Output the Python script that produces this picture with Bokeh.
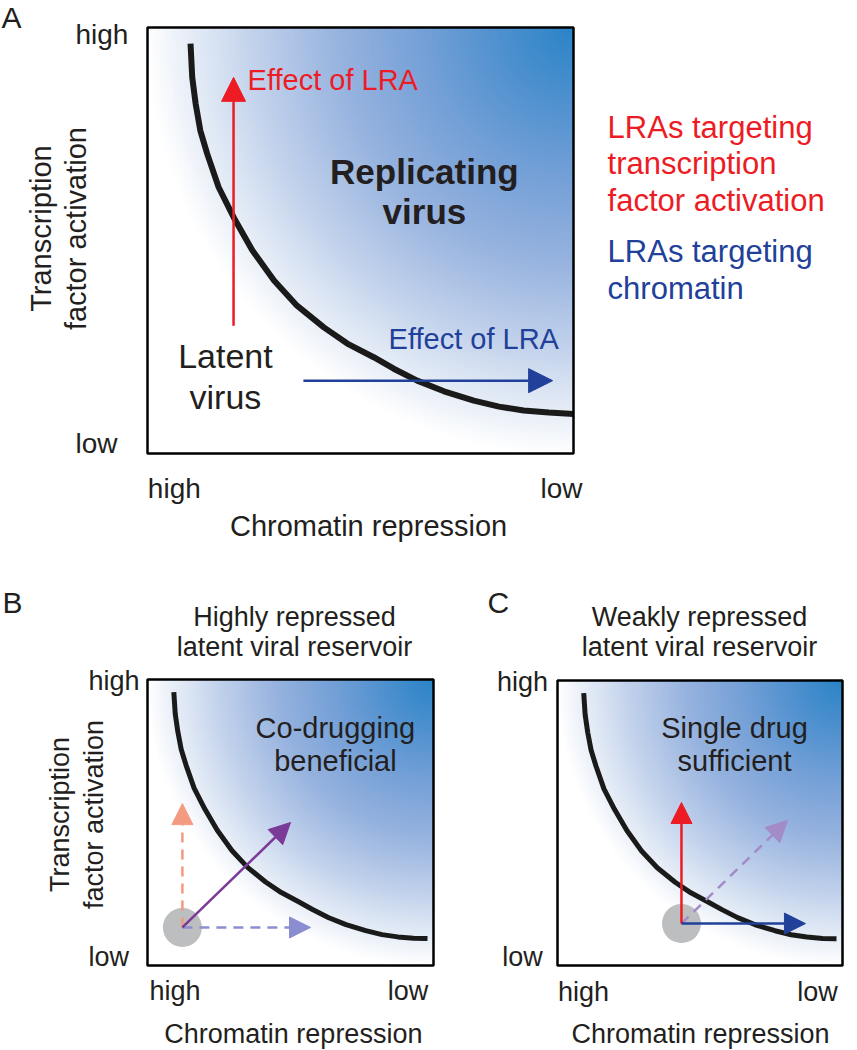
import numpy as np
from bokeh.plotting import figure
from bokeh.models import Arrow, NormalHead
from bokeh.layouts import column, row
from bokeh.embed import file_html
from bokeh.resources import INLINE
from bokeh.core.properties import value

# ---------------- data (normalised 0..1 axes: chromatin repression high->low, TF activation low->high)
curve_a_x = [0.101, 0.105, 0.113, 0.124, 0.140, 0.167, 0.203, 0.246, 0.297, 0.351, 0.414,
             0.469, 0.531, 0.578, 0.633, 0.696, 0.766, 0.825, 0.883, 0.942, 1.000]
curve_a_y = [0.962, 0.883, 0.821, 0.758, 0.704, 0.625, 0.553, 0.477, 0.406, 0.347, 0.296,
             0.258, 0.226, 0.199, 0.171, 0.146, 0.124, 0.110, 0.101, 0.096, 0.093]
curve_bc_x = [0.092, 0.097, 0.106, 0.118, 0.135, 0.163, 0.200, 0.244, 0.295, 0.350, 0.413,
              0.468, 0.530, 0.577, 0.632, 0.694, 0.763, 0.820, 0.875, 0.930, 0.979]
curve_bc_y = [0.956, 0.880, 0.818, 0.755, 0.700, 0.620, 0.548, 0.473, 0.402, 0.343, 0.292,
              0.255, 0.222, 0.196, 0.168, 0.143, 0.122, 0.108, 0.100, 0.095, 0.094]

x_tick_labels = ["high", "low"]
y_tick_labels = ["high", "low"]
x_title = "Chromatin repression"
y_title = ["Transcription", "factor activation"]

# panel A effect arrows
a_tf_x = [0.202, 0.202]
a_tf_y = [0.300, 0.883]
a_chrom_x = [0.366, 0.951]
a_chrom_y = [0.171, 0.171]
# panel B: latent state and drug effects
b_origin = [0.122, 0.133]
b_tf_tip = [0.122, 0.566]
b_chrom_tip = [0.570, 0.133]
b_combo_tip = [0.500, 0.500]
# panel C
c_origin = [0.435, 0.147]
c_tf_tip = [0.435, 0.572]
c_chrom_tip = [0.870, 0.147]
c_combo_tip = [0.807, 0.509]

FONT = "Liberation Sans"
INK = "#231f20"
RED = "#ed1c24"
BLUE = "#21409a"
SALMON = "#f39a80"
LAVENDER = "#8a8ed0"
PURPLE = "#7b3a98"
LILAC = "#a28bc7"
GREY = "#bdbec0"

BOX_PX = {}


def gradient_image(n=300):
    g = (np.arange(n) + 0.5) / n
    X, Y = np.meshgrid(g, g)
    d = np.sqrt((1 - X) ** 2 + (1 - Y) ** 2)
    sd = [0.0, 0.15, 0.35, 0.55, 0.75, 0.90, 1.0]
    r = [42, 74, 116, 151, 194, 230, 255]
    gg = [132, 143, 160, 179, 210, 237, 255]
    b = [200, 206, 215, 223, 236, 247, 255]
    img = np.empty((n, n), dtype=np.uint32)
    v = img.view(dtype=np.uint8).reshape((n, n, 4))
    v[..., 0] = np.interp(d, sd, r).astype(np.uint8)
    v[..., 1] = np.interp(d, sd, gg).astype(np.uint8)
    v[..., 2] = np.interp(d, sd, b).astype(np.uint8)
    v[..., 3] = 255
    return img


GRAD = gradient_image()


def panel(width, height, box_left, box_top, box_w, box_h):
    """Figure whose frame fills the canvas; the unit square is the diagram's plot box."""
    x0 = -box_left / box_w
    x1 = (width - box_left) / box_w
    y1 = 1 + box_top / box_h
    y0 = 1 - (height - box_top) / box_h
    p = figure(width=width, height=height, x_range=(x0, x1), y_range=(y0, y1),
               x_axis_location=None, y_axis_location=None,
               output_backend="svg", toolbar_location=None,
               min_border_left=0, min_border_right=0, min_border_top=0, min_border_bottom=0)
    p.grid.visible = False
    p.outline_line_color = None
    p.background_fill_color = "white"
    p.border_fill_color = "white"
    p.image_rgba(image=[GRAD], x=0, y=0, dw=1, dh=1)
    BOX_PX[p.id] = (box_w, box_h)
    return p


def box(p):
    p.quad(left=[0], right=[1], bottom=[0], top=[1], fill_color=None,
           line_color="black", line_width=2.5)


def words(p, xs, ys, texts, size, color=INK, align="center", style="normal", angle=0.0):
    # xs/ys give the intended alphabetic baseline; compensate the renderer's baseline drop
    bw, bh = BOX_PX[p.id]
    shift = 0.33 * float(size[:-2])
    if angle:
        xs = [x - shift / bw for x in xs]
    else:
        ys = [y + shift / bh for y in ys]
    p.text(x=xs, y=ys, text=texts, text_font=value(FONT), text_font_size=size,
           text_color=color, text_align=align, text_baseline="alphabetic",
           text_font_style=style, angle=angle)


def arrow(p, x0, y0, x1, y1, color, width=2.5, dash="solid", head=24):
    p.add_layout(Arrow(end=NormalHead(size=head, fill_color=color, line_color=color, line_width=1),
                       x_start=x0, y_start=y0, x_end=x1, y_end=y1,
                       line_color=color, line_width=width, line_dash=dash))


# ---------------- panel A  (box 426 x 426 px)
pa = panel(857, 570, 147, 27, 426, 426)
pa.line(curve_a_x, curve_a_y, line_width=6, line_color="#1a1a1a", line_join="round")
box(pa)
arrow(pa, a_tf_x[0], a_tf_y[0], a_tf_x[1], a_tf_y[1], RED, head=24)
arrow(pa, a_chrom_x[0], a_chrom_y[0], a_chrom_x[1], a_chrom_y[1], BLUE, head=24)
words(pa, [0.235], [0.854], ["Effect of LRA"], "29px", RED, "left")
words(pa, [0.566], [0.246], ["Effect of LRA"], "29px", BLUE, "left")
words(pa, [0.650, 0.650], [0.634, 0.540], ["Replicating", "virus"], "35px", style="bold")
words(pa, [0.183, 0.183], [0.202, 0.106], ["Latent", "virus"], "34px")
# tick labels and titles
words(pa, [0.063, 0.972], [-0.103, -0.103], x_tick_labels, "28px")
words(pa, [-0.169, -0.169], [0.962, 0.002], y_tick_labels, "28px", align="left")
words(pa, [0.519], [-0.192], [x_title], "29px")
words(pa, [-0.228, -0.146], [0.528, 0.528], y_title, "29px", angle=np.pi / 2)
words(pa, [-0.343], [1.0], ["A"], "30px", align="left")
words(pa, [1.08, 1.08, 1.08], [0.742, 0.657, 0.570],
      ["LRAs targeting", "transcription", "factor activation"], "31px", RED, "left")
words(pa, [1.08, 1.08], [0.451, 0.364], ["LRAs targeting", "chromatin"], "31px", BLUE, "left")

# ---------------- panel B  (box 286 x 286 px)
pb = panel(438, 480, 147, 109, 286, 286)
pb.line(curve_bc_x, curve_bc_y, line_width=5, line_color="#1a1a1a", line_join="round")
box(pb)
pb.scatter([b_origin[0]], [b_origin[1]], size=39, marker="circle", fill_color=GREY, line_color=None)
arrow(pb, b_origin[0], b_origin[1], b_tf_tip[0], b_tf_tip[1], SALMON, dash="10 7", head=21)
arrow(pb, b_origin[0], b_origin[1], b_chrom_tip[0], b_chrom_tip[1], LAVENDER, dash="10 7", head=21)
arrow(pb, b_origin[0], b_origin[1], b_combo_tip[0], b_combo_tip[1], PURPLE, head=21)
words(pb, [0.657, 0.657], [0.797, 0.682], ["Co-drugging", "beneficial"], "29px")
words(pb, [0.096, 0.911], [-0.122, -0.122], x_tick_labels, "27px")
words(pb, [-0.206, -0.206], [0.962, 0.0], y_tick_labels, "27px", align="left")
words(pb, [0.510], [-0.269], [x_title], "27px")
words(pb, [-0.276, -0.157], [0.528, 0.528], y_title, "27px", angle=np.pi / 2)
words(pb, [-0.507], [1.234], ["B"], "30px", align="left")
words(pb, [0.514, 0.514], [1.189, 1.084], ["Highly repressed", "latent viral reservoir"], "27px")

# ---------------- panel C  (box 285 x 285 px)
pc = panel(419, 480, 119, 110, 285, 285)
pc.line(curve_bc_x, curve_bc_y, line_width=5, line_color="#1a1a1a", line_join="round")
box(pc)
pc.scatter([c_origin[0]], [c_origin[1]], size=39, marker="circle", fill_color=GREY, line_color=None)
arrow(pc, c_origin[0], c_origin[1], c_combo_tip[0], c_combo_tip[1], LILAC, dash="10 7", head=21)
arrow(pc, c_origin[0], c_origin[1], c_tf_tip[0], c_tf_tip[1], RED, head=21)
arrow(pc, c_origin[0], c_origin[1], c_chrom_tip[0], c_chrom_tip[1], BLUE, head=21)
words(pc, [0.621, 0.621], [0.800, 0.684], ["Single drug", "sufficient"], "29px")
words(pc, [0.091, 0.912], [-0.123, -0.123], x_tick_labels, "27px")
words(pc, [-0.123, -0.123], [0.965, 0.0], y_tick_labels, "27px")
words(pc, [0.502], [-0.270], [x_title], "27px")
words(pc, [-0.246], [1.239], ["C"], "30px", align="left")
words(pc, [0.498, 0.498], [1.193, 1.088], ["Weakly repressed", "latent viral reservoir"], "27px")

layout = column(pa, row(pb, pc))
open("out.html", "w").write(file_html(layout, INLINE))
